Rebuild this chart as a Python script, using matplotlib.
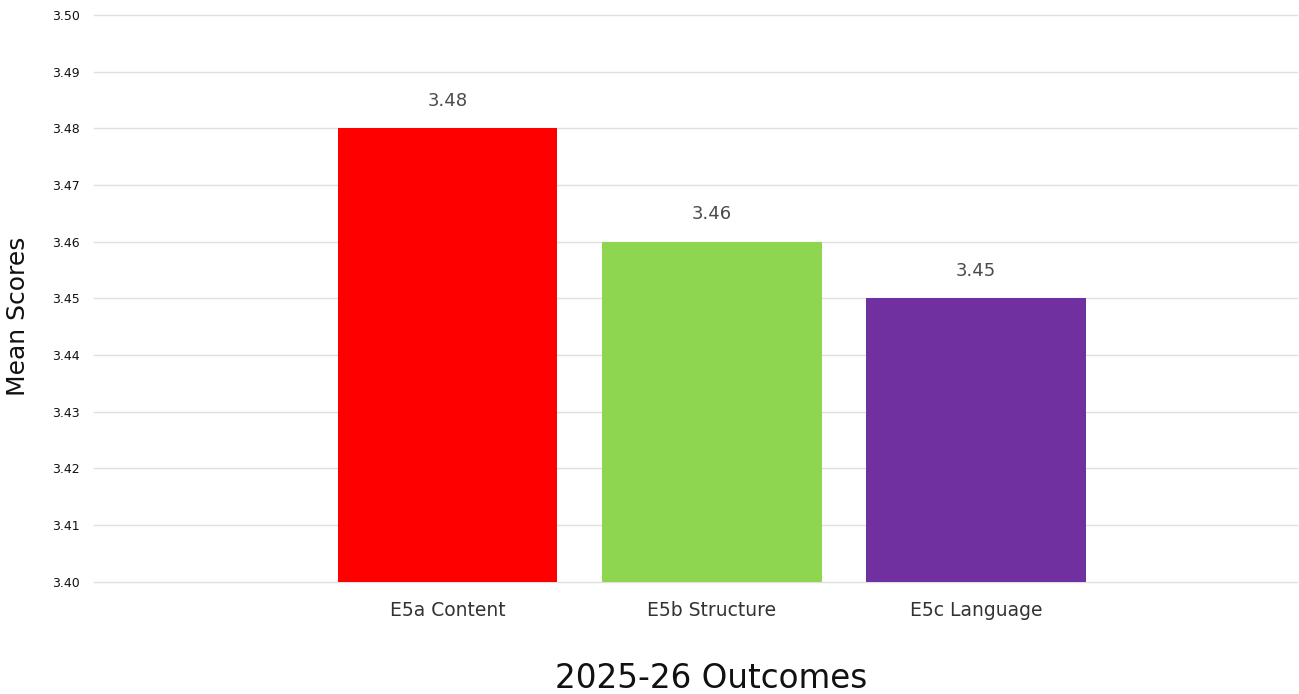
import numpy as np
import matplotlib
matplotlib.use('Agg')
import matplotlib.pyplot as plt

categories = ['E5a Content', 'E5b Structure', 'E5c Language']
scores = [3.48, 3.46, 3.45]
colors = ['#FF0000', '#8FD650', '#7030A0']
yticks = [3.40, 3.41, 3.42, 3.43, 3.44, 3.45, 3.46, 3.47, 3.48, 3.49, 3.50]

plt.rcParams['font.family'] = ['DejaVu Sans']

fig = plt.figure(figsize=(12.99, 6.94), dpi=100)
ax = fig.add_axes([94/1299, 1 - 581.5/694, (1297 - 94)/1299, (581.5 - 15)/694])

x = np.arange(len(categories))
bars = ax.bar(x, scores, width=0.83, color=colors, zorder=2)

for xi, s in zip(x, scores):
    ax.text(xi, s + 0.0033, '%.2f' % s, ha='center', va='bottom',
            fontsize=13, color='#4a4a4a')

ax.set_ylim(3.40, 3.50)
ax.set_xlim(-1.338, 3.214)
ax.set_yticks(yticks)
ax.set_yticklabels(['%.2f' % t for t in yticks], fontsize=9, color='#111111')
ax.set_xticks(x)
ax.set_xticklabels(categories, fontsize=13.5, color='#333333')
ax.tick_params(axis='both', length=0)
ax.tick_params(axis='y', pad=10)
ax.tick_params(axis='x', pad=14)

ax.grid(axis='y', color='#e0e0e0', linewidth=1, zorder=0)
for gl in ax.get_ygridlines():
    gl.set_clip_on(False)
for sp in ax.spines.values():
    sp.set_visible(False)

ax.set_ylabel('Mean Scores', fontsize=18, color='#111111', labelpad=16)
ax.set_xlabel('2025-26 Outcomes', fontsize=23.5, color='#111111', labelpad=30)
ax.yaxis.label.set_y(0.468)
ax.xaxis.label.set_x(0.513)

plt.savefig('out.png', dpi=100)
